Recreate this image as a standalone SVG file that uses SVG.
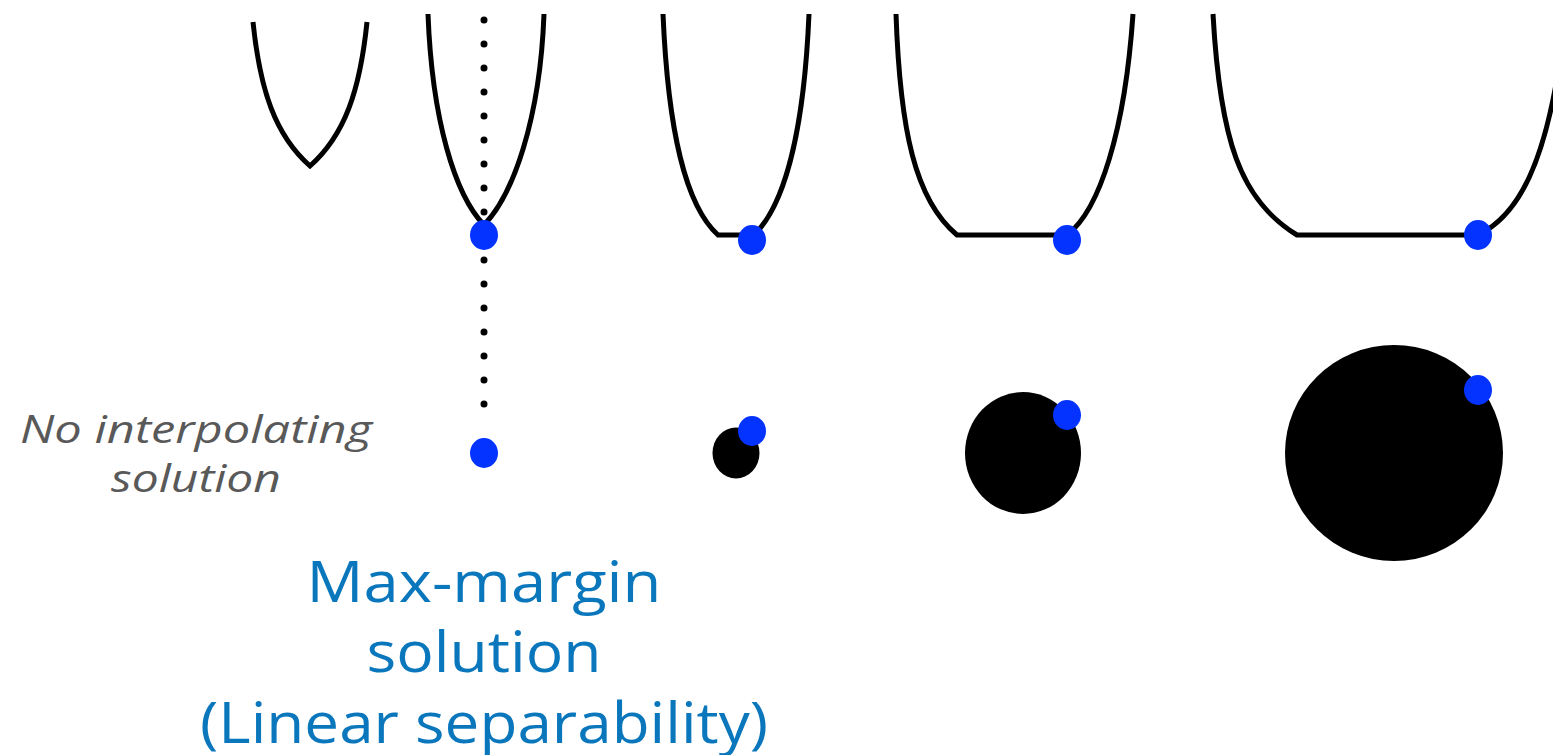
<svg xmlns="http://www.w3.org/2000/svg" width="1553" height="755" viewBox="0 0 1553 755">
<style>
.curve{fill:none;stroke:#000;stroke-width:5;stroke-linejoin:miter}
.pt{fill:#0433FF}
.blk{fill:#000}
.gray{font-family:"Open Sans","Liberation Sans",sans-serif;font-style:italic;font-size:39px;fill:#595959;text-anchor:middle}
.blue{font-family:"Open Sans","Liberation Sans",sans-serif;font-size:56px;fill:#0A77BD;text-anchor:middle}
</style>
<rect width="1553" height="755" fill="#fff"/>
<g id="dotted-line">
<line x1="484" y1="-4" x2="484" y2="410" stroke="#000" stroke-width="7" stroke-linecap="round" stroke-dasharray="0 24"/>
</g>
<g id="curve1">
<path class="curve" d="M253,22 C260,90 275,135 310,166 C345,135 360,90 367,22"/>
</g>
<g id="curve2">
<path class="curve" d="M428,14 C432,120 455,195 484,225 C513,195 540,120 544,14"/>
<ellipse class="pt" cx="484" cy="235" rx="14" ry="15"/>
</g>
<g id="curve3">
<path class="curve" d="M663,14 C668,130 685,205 718,235 L754,235"/>
<path class="curve" d="M754,235 C785,205 804,130 809,14"/>
<ellipse class="pt" cx="752" cy="240" rx="14" ry="15"/>
</g>
<g id="curve4">
<path class="curve" d="M896,14 C900,130 915,200 957,235 L1067,235"/>
<path class="curve" d="M1067,235 C1100,210 1125,130 1133,14"/>
<ellipse class="pt" cx="1067" cy="240" rx="14" ry="15"/>
</g>
<g id="curve5">
<path class="curve" d="M1213,14 C1220,140 1240,200 1297,235 L1478,235"/>
<path class="curve" d="M1478,235 C1520,215 1545,160 1560,60"/>
<ellipse class="pt" cx="1478" cy="235" rx="14" ry="15"/>
</g>
<g id="point-a">
<ellipse class="pt" cx="484" cy="453" rx="14" ry="15"/>
</g>
<g id="ball-b">
<ellipse class="blk" cx="736" cy="453" rx="23.5" ry="25.5"/>
<ellipse class="pt" cx="752" cy="431" rx="14" ry="15"/>
</g>
<g id="ball-c">
<ellipse class="blk" cx="1023" cy="453" rx="58" ry="61"/>
<ellipse class="pt" cx="1067" cy="415" rx="14" ry="15"/>
</g>
<g id="ball-d">
<ellipse class="blk" cx="1394" cy="453" rx="109" ry="108"/>
<ellipse class="pt" cx="1478" cy="390" rx="14" ry="15"/>
</g>
<g id="label-no-interp">
<text class="gray" x="196" y="443" textLength="352" lengthAdjust="spacingAndGlyphs">No interpolating</text>
<text class="gray" x="196" y="492" textLength="170" lengthAdjust="spacingAndGlyphs">solution</text>
</g>
<g id="label-max-margin">
<text class="blue" x="484" y="602" textLength="355" lengthAdjust="spacingAndGlyphs">Max-margin</text>
<text class="blue" x="484" y="672" textLength="235" lengthAdjust="spacingAndGlyphs">solution</text>
<text class="blue" x="484" y="743" textLength="568" lengthAdjust="spacingAndGlyphs">(Linear separability)</text>
</g>
</svg>
